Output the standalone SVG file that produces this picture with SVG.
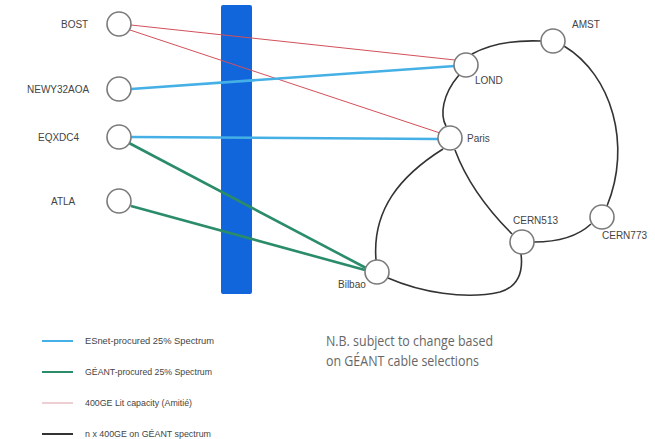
<svg xmlns="http://www.w3.org/2000/svg" width="655" height="439" viewBox="0 0 655 439">
<style>
.node circle{fill:#fff;stroke:#7a7a7a;stroke-width:1.6}
.lbl{font-family:"Liberation Sans",Arial,sans-serif;font-size:10px;fill:#444}
.leg{font-family:"Liberation Sans",Arial,sans-serif;font-size:9.5px;fill:#444}
.nb{font-family:"Open Sans","Liberation Sans",sans-serif;font-size:15px;fill:#666}
.blk{fill:none;stroke:#333;stroke-width:1.6}
.blue{stroke:#45b0e5;stroke-width:2.6;fill:none}
.green{stroke:#2a8c68;stroke-width:2.6;fill:none}
.red{stroke:#d2505a;stroke-width:1;fill:none}
</style>
<rect width="655" height="439" fill="#fff"/>
<rect x="221" y="5" width="31" height="289" rx="2" fill="#1166dc"/>
<g id="connectors">
<line class="red" x1="131" y1="25" x2="455" y2="60"/>
<line class="red" x1="130" y1="30" x2="440" y2="133"/>
<line class="blue" x1="131" y1="89" x2="455" y2="66"/>
<line class="blue" x1="131" y1="137" x2="438" y2="139"/>
<line class="green" x1="129" y1="143" x2="366" y2="268"/>
<line class="green" x1="131" y1="206" x2="365" y2="270"/>
<path class="blk" d="M472 54 C490 44 515 40 541 41"/>
<path class="blk" d="M564 46 C612 75 632 145 607 206"/>
<path class="blk" d="M591 224 C576 238 556 242 534 242"/>
<path class="blk" d="M459 75 C442 95 440 115 446 126"/>
<path class="blk" d="M443 149 C400 176 372 210 376 260"/>
<path class="blk" d="M455 150 C468 185 490 212 512 234"/>
<path class="blk" d="M388 278 C420 292 465 300 500 292 C520 286 523 270 521 254"/>
</g>
<g id="BOST" class="node"><circle cx="119" cy="24" r="12"/><text class="lbl" x="61" y="28">BOST</text></g>
<g id="NEWY32AOA" class="node"><circle cx="119" cy="89" r="12"/><text class="lbl" x="27" y="93">NEWY32AOA</text></g>
<g id="EQXDC4" class="node"><circle cx="119" cy="137" r="12"/><text class="lbl" x="38" y="141">EQXDC4</text></g>
<g id="ATLA" class="node"><circle cx="119" cy="201" r="12"/><text class="lbl" x="51" y="205">ATLA</text></g>
<g id="AMST" class="node"><circle cx="553" cy="41" r="12"/><text class="lbl" x="572" y="28">AMST</text></g>
<g id="LOND" class="node"><circle cx="466" cy="65" r="12"/><text class="lbl" x="475" y="84">LOND</text></g>
<g id="Paris" class="node"><circle cx="450" cy="138" r="12"/><text class="lbl" x="467" y="142">Paris</text></g>
<g id="CERN513" class="node"><circle cx="522" cy="242" r="12"/><text class="lbl" x="513" y="224">CERN513</text></g>
<g id="CERN773" class="node"><circle cx="602" cy="217" r="12"/><text class="lbl" x="602" y="239">CERN773</text></g>
<g id="Bilbao" class="node"><circle cx="377" cy="272" r="12"/><text class="lbl" x="338" y="288">Bilbao</text></g>
<g id="legend">
<line x1="42" y1="341" x2="73" y2="341" stroke="#45b0e5" stroke-width="2"/>
<line x1="42" y1="372" x2="73" y2="372" stroke="#2a8c68" stroke-width="2"/>
<line x1="42" y1="403" x2="73" y2="403" stroke="#dca0a8" stroke-width="1"/>
<line x1="42" y1="434" x2="73" y2="434" stroke="#333" stroke-width="2"/>
<text class="leg" x="85" y="344" textLength="129" lengthAdjust="spacingAndGlyphs">ESnet-procured 25% Spectrum</text>
<text class="leg" x="85" y="375" textLength="127" lengthAdjust="spacingAndGlyphs">GÉANT-procured 25% Spectrum</text>
<text class="leg" x="85" y="406" textLength="107" lengthAdjust="spacingAndGlyphs">400GE Lit capacity (Amitié)</text>
<text class="leg" x="85" y="437" textLength="126" lengthAdjust="spacingAndGlyphs">n x 400GE on GÉANT spectrum</text>
</g>
<text class="nb" x="326" y="346" textLength="167" lengthAdjust="spacingAndGlyphs">N.B. subject to change based</text>
<text class="nb" x="326" y="366" textLength="153" lengthAdjust="spacingAndGlyphs">on GÉANT cable selections</text>
</svg>
